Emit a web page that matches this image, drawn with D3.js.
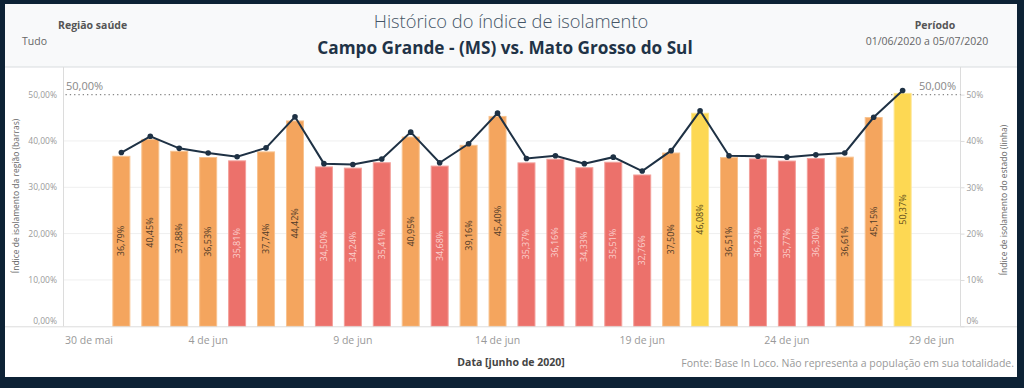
<!DOCTYPE html>
<html><head><meta charset="utf-8">
<script src="https://cdn.jsdelivr.net/npm/d3@7"></script>
<style>
html,body{margin:0;padding:0;background:#0d2235;}
svg{display:block;}
text{font-family:"Open Sans","Noto Sans",sans-serif;}
</style></head>
<body>
<svg id="c" width="1024" height="388"></svg>
<script>
// ---- data ----
const dates = ["2020-06-01","2020-06-02","2020-06-03","2020-06-04","2020-06-05","2020-06-06","2020-06-07",
"2020-06-08","2020-06-09","2020-06-10","2020-06-11","2020-06-12","2020-06-13","2020-06-14",
"2020-06-15","2020-06-16","2020-06-17","2020-06-18","2020-06-19","2020-06-20","2020-06-21",
"2020-06-22","2020-06-23","2020-06-24","2020-06-25","2020-06-26","2020-06-27","2020-06-28"];
const regionValues = [36.79,40.45,37.88,36.53,35.81,37.74,44.42,34.50,34.24,35.41,40.95,34.68,39.16,45.40,
35.37,36.16,34.33,35.51,32.76,37.50,46.08,36.51,36.23,35.77,36.30,36.61,45.15,50.37];
const stateValues = [37.5,41.0,38.4,37.4,36.6,38.5,45.2,35.1,34.9,36.1,41.9,35.3,39.4,46.0,
36.2,36.8,35.1,36.5,33.5,37.9,46.5,36.8,36.7,36.5,37.0,37.4,45.1,50.9];
const levels = ["mid","mid","mid","mid","low","mid","mid","low","low","low","mid","low","mid","mid",
"low","low","low","low","low","mid","high","mid","low","low","low","mid","mid","high"];
const tickDates = ["2020-05-30","2020-06-04","2020-06-09","2020-06-14","2020-06-19","2020-06-24","2020-06-29"];
const tickLabels = ["30 de mai","4 de jun","9 de jun","14 de jun","19 de jun","24 de jun","29 de jun"];
const yTicks = [0,10,20,30,40,50];
const refValue = 50;

// ---- layout ----
const svg = d3.select("#c");
const W = 1024, H = 388;
const P = {x0:5, y0:4, x1:1017, y1:377};
const plot = {l:63.5, r:960.5, t:67, b:326.3};

const fill = {mid:"#f4a55e", low:"#ec716b", high:"#fdd853"};
const stroke = {mid:"#f8c390", low:"#f3a09b", high:"#fde58d"};
const labCol = {mid:"#4e3a28", low:"#fbd0cd", high:"#5b4b1d"};

svg.append("rect").attr("x",0).attr("y",0).attr("width",W).attr("height",H).attr("fill","#0d2235");
svg.append("rect").attr("x",P.x0).attr("y",P.y0).attr("width",P.x1-P.x0).attr("height",P.y1-P.y0).attr("fill","#ffffff");
svg.append("rect").attr("x",P.x0).attr("y",P.y0).attr("width",P.x1-P.x0).attr("height",plot.t-P.y0).attr("fill","#f8f9fa");

const parse = d3.utcParse("%Y-%m-%d");
const x = d3.scaleUtc().domain([parse("2020-05-30"), parse("2020-06-30")]).range([plot.l, plot.r]);
const y = d3.scaleLinear().domain([0,50]).range([plot.b, 94.6]);
const yR = d3.scaleLinear().domain([0,50]).range([plot.b, 94.6]);

// header
svg.append("line").attr("x1",P.x0).attr("x2",P.x1).attr("y1",plot.t).attr("y2",plot.t).attr("stroke","#d9dcdf");
svg.append("text").attr("x",58).attr("y",29).attr("font-size",10.5).attr("font-weight",700).attr("fill","#555").text("Região saúde");
svg.append("text").attr("x",22).attr("y",45).attr("font-size",10.5).attr("fill","#666").text("Tudo");
svg.append("text").attr("x",935).attr("y",29).attr("font-size",10.5).attr("font-weight",700).attr("fill","#555").attr("text-anchor","middle").text("Período");
svg.append("text").attr("x",927).attr("y",45).attr("font-size",10.5).attr("fill","#666").attr("text-anchor","middle").text("01/06/2020 a 05/07/2020");
svg.append("text").attr("x",511).attr("y",28).attr("font-size",18.3).attr("font-weight",300).attr("fill","#445566").attr("text-anchor","middle").text("Histórico do índice de isolamento");
svg.append("text").attr("x",505).attr("y",54).attr("font-size",17.2).attr("font-weight",700).attr("fill","#1f3347").attr("text-anchor","middle").text("Campo Grande - (MS) vs. Mato Grosso do Sul");

// gridlines
svg.append("g").selectAll("line").data(yTicks.filter(d=>d>0 && d<50)).join("line")
  .attr("x1",plot.l).attr("x2",plot.r).attr("y1",d=>y(d)).attr("y2",d=>y(d)).attr("stroke","#efefef");

// axes lines
svg.append("line").attr("x1",plot.l).attr("x2",plot.l).attr("y1",plot.t).attr("y2",plot.b).attr("stroke","#dcdcdc");
svg.append("line").attr("x1",plot.r).attr("x2",plot.r).attr("y1",plot.t).attr("y2",plot.b).attr("stroke","#dcdcdc");

// left axis labels
const fmtL = d => d3.format(".2f")(d).replace(".",",") + "%";
svg.append("g").selectAll("text").data(yTicks).join("text")
  .attr("x",57).attr("y",d=>y(d) + (d===0?-5.5:0)).attr("dy","0.35em")
  .attr("text-anchor","end").attr("font-size",8.5).attr("fill","#9a9a9a").text(fmtL);
// right axis
const rAxis = d3.axisRight(yR).tickValues(yTicks).tickSize(4).tickFormat(d=>d+"%");
const gR = svg.append("g").attr("transform",`translate(${plot.r},0)`).call(rAxis);
gR.select(".domain").remove();
gR.selectAll(".tick line").attr("stroke","#dcdcdc");
gR.selectAll(".tick text").attr("font-size",8.5).attr("fill","#9a9a9a").attr("x",6)
  .attr("font-family","'Open Sans',sans-serif")
  .attr("dy",d=>d===0?"-0.3em":"0.32em");

// axis titles
svg.append("text").attr("transform","translate(19,196) rotate(-90)").attr("text-anchor","middle")
  .attr("font-size",8.5).attr("fill","#666").text("Índice de isolamento da região (barras)");
svg.append("text").attr("transform","translate(1007,200) rotate(-90)").attr("text-anchor","middle")
  .attr("font-size",8.5).attr("fill","#666").text("Índice de isolamento do estado (linha)");

// reference line
svg.append("line").attr("x1",plot.l+2).attr("x2",plot.r).attr("y1",y(refValue)).attr("y2",y(refValue))
  .attr("stroke","#888").attr("stroke-width",1.3).attr("stroke-dasharray","1.3,3");
const refTxt = fmtL(refValue);
svg.append("text").attr("x",66).attr("y",90).attr("font-size",11).attr("fill","#888").text(refTxt);
svg.append("text").attr("x",956).attr("y",90).attr("font-size",11).attr("fill","#888").attr("text-anchor","end").text(refTxt);

// bars
const bw = 18;
const data = dates.map((d,i)=>({date:parse(d), v:regionValues[i], s:stateValues[i], lev:levels[i]}));
svg.append("g").selectAll("rect").data(data).join("rect")
  .attr("x",d=>x(d.date)-bw/2+0.5).attr("width",bw-1)
  .attr("y",d=>y(d.v)+0.5).attr("height",d=>plot.b-y(d.v)-0.5)
  .attr("fill",d=>fill[d.lev]).attr("stroke",d=>stroke[d.lev]).attr("stroke-width",1);

// bar labels
const fmtV = d => d3.format(".2f")(d).replace(".",",") + "%";
svg.append("g").selectAll("text").data(data).join("text")
  .attr("transform",d=>`translate(${x(d.date)+3},${(y(d.v)+plot.b)/2}) rotate(-90)`)
  .attr("text-anchor","middle").attr("font-size",9).attr("fill",d=>labCol[d.lev]).text(d=>fmtV(d.v));

// x axis line
svg.append("line").attr("x1",P.x0).attr("x2",P.x1).attr("y1",plot.b+0.5).attr("y2",plot.b+0.5).attr("stroke","#dcdcdc");

// x ticks labels
svg.append("g").selectAll("text").data(tickDates).join("text")
  .attr("x",(d,i)=> i===0 ? plot.l+1.5 : x(parse(d)))
  .attr("text-anchor",(d,i)=> i===0 ? "start":"middle")
  .attr("y",344).attr("font-size",10.5).attr("fill","#999").text((d,i)=>tickLabels[i]);

svg.append("text").attr("x",511).attr("y",366).attr("text-anchor","middle").attr("font-size",10.5)
  .attr("font-weight",700).attr("fill","#444").text("Data [junho de 2020]");
svg.append("text").attr("x",1014).attr("y",367).attr("text-anchor","end").attr("font-size",10.5)
  .attr("fill","#999").text("Fonte: Base In Loco. Não representa a população em sua totalidade.");

// line
const line = d3.line().x(d=>x(d.date)).y(d=>yR(d.s));
svg.append("path").datum(data).attr("d",line).attr("fill","none").attr("stroke","#1e3144").attr("stroke-width",2);
svg.append("g").selectAll("circle").data(data).join("circle")
  .attr("cx",d=>x(d.date)).attr("cy",d=>yR(d.s)).attr("r",2.8).attr("fill","#1e3144");
</script>
</body></html>
